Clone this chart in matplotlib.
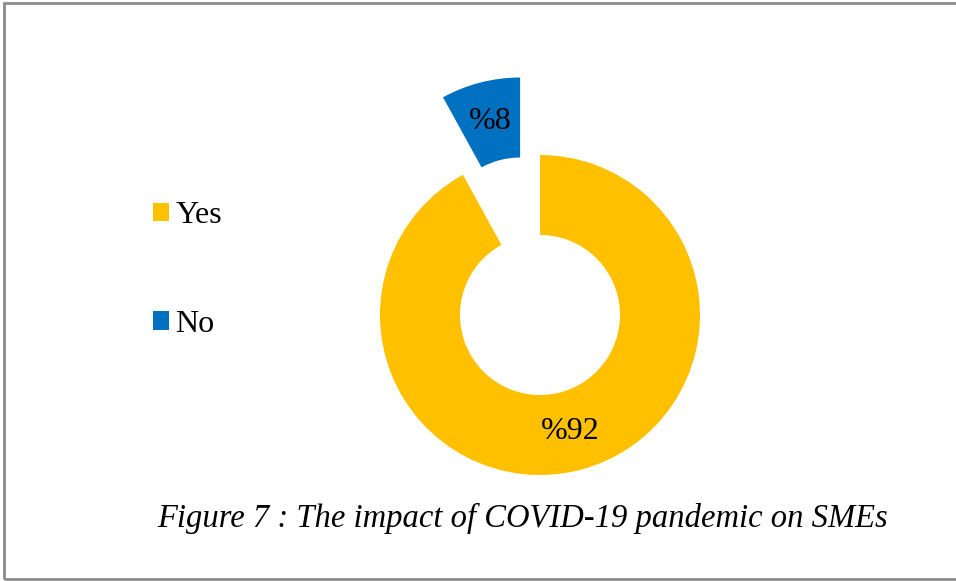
import matplotlib
matplotlib.use('Agg')
import matplotlib.pyplot as plt
from matplotlib.patches import Rectangle

labels = ['Yes', 'No']
values = [92, 8]
colors = ['#FFC000', '#0070C0']
caption = 'Figure 7 : The impact of COVID-19 pandemic on SMEs'

plt.rcParams['font.family'] = ['Liberation Serif', 'DejaVu Serif']

W, H = 956, 581
fig = plt.figure(figsize=(W / 100, H / 100), dpi=100)

# pie axes: centre at (540, 315) px from top-left, radius 160 px
cx, cy, half = 540, 315, 240
ax = fig.add_axes([(cx - half) / W, (H - cy - half) / H, 2 * half / W, 2 * half / H])
wedges, texts, autotexts = ax.pie(
    values, colors=colors, startangle=90, counterclock=False,
    explode=[0, 0.5], radius=1,
    wedgeprops=dict(width=0.5, linewidth=0),
    autopct=lambda p: '%{:.0f}'.format(p), pctdistance=0.75,
    textprops=dict(fontsize=23, color='black'))
for w in wedges:
    w.set_clip_on(False)
ax.set_xlim(-1.5, 1.5)
ax.set_ylim(-1.5, 1.5)
ax.set_aspect('equal')
ax.axis('off')

fig.legend(wedges, labels, loc='center left',
           bbox_to_anchor=(153 / W, 1 - 270 / H),
           frameon=False, fontsize=23, handlelength=0.5, handleheight=0.5,
           handletextpad=0.2, labelspacing=2.5, borderpad=0, borderaxespad=0)

fig.text(157 / W, 1 - 518 / H, caption, fontsize=23.5, fontstyle='italic',
         ha='left', va='center')

# grey frame around the figure
fig.patches.append(Rectangle((4 / W, 2 / H), 1.0, 1 - 5 / H, transform=fig.transFigure,
                             fill=False, edgecolor='#8c8c8c', linewidth=2))

fig.savefig('out.png', dpi=100)
